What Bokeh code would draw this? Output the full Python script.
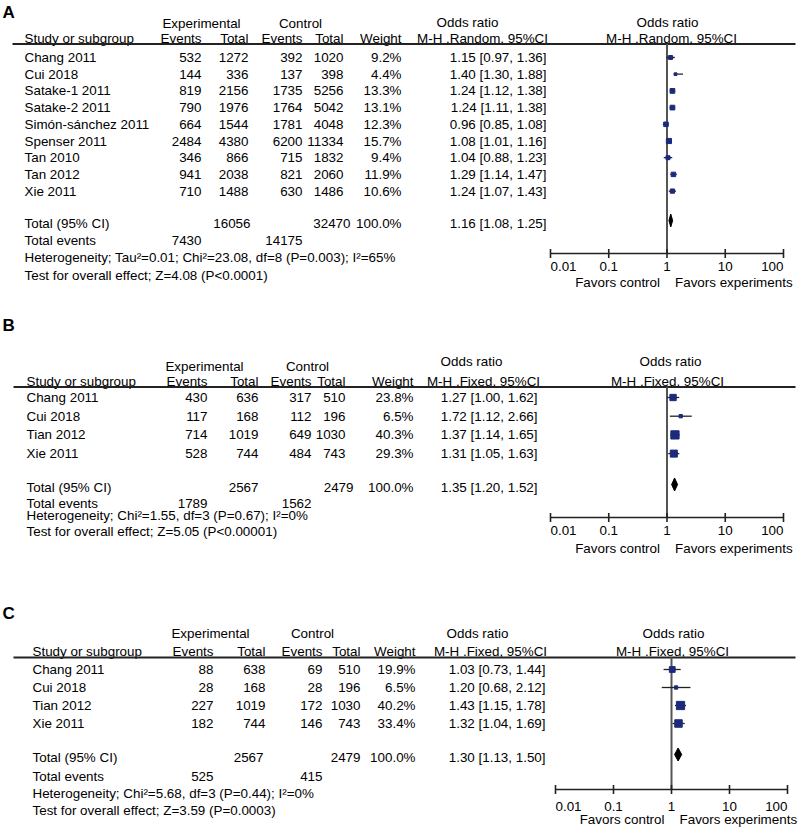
import math
from bokeh.plotting import figure
from bokeh.models import Range1d, LogScale
from bokeh.core.properties import value
from bokeh.embed import file_html
from bokeh.resources import INLINE

# ---------------- DATA ----------------
A_studies = ["Chang 2011", "Cui 2018", "Satake-1 2011", "Satake-2 2011", "Simón-sánchez 2011",
             "Spenser 2011", "Tan 2010", "Tan 2012", "Xie 2011"]
A_exp_events = [532, 144, 819, 790, 664, 2484, 346, 941, 710]
A_exp_total = [1272, 336, 2156, 1976, 1544, 4380, 866, 2038, 1488]
A_ctl_events = [392, 137, 1735, 1764, 1781, 6200, 715, 821, 630]
A_ctl_total = [1020, 398, 5256, 5042, 4048, 11334, 1832, 2060, 1486]
A_weight = [9.2, 4.4, 13.3, 13.1, 12.3, 15.7, 9.4, 11.9, 10.6]
A_or = [1.15, 1.40, 1.24, 1.24, 0.96, 1.08, 1.04, 1.29, 1.24]
A_lo = [0.97, 1.30, 1.12, 1.11, 0.85, 1.01, 0.88, 1.14, 1.07]
A_hi = [1.36, 1.88, 1.38, 1.38, 1.08, 1.16, 1.23, 1.47, 1.43]
A_total = {"exp_total": 16056, "ctl_total": 32470, "weight": 100.0, "or": 1.16, "lo": 1.08, "hi": 1.25,
           "exp_events": 7430, "ctl_events": 14175}
A_het = "Heterogeneity; Tau²=0.01; Chi²=23.08, df=8 (P=0.003); I²=65%"
A_test = "Test for overall effect; Z=4.08 (P<0.0001)"
A_method = "M-H .Random, 95%CI"

B_studies = ["Chang 2011", "Cui 2018", "Tian 2012", "Xie 2011"]
B_exp_events = [430, 117, 714, 528]
B_exp_total = [636, 168, 1019, 744]
B_ctl_events = [317, 112, 649, 484]
B_ctl_total = [510, 196, 1030, 743]
B_weight = [23.8, 6.5, 40.3, 29.3]
B_or = [1.27, 1.72, 1.37, 1.31]
B_lo = [1.00, 1.12, 1.14, 1.05]
B_hi = [1.62, 2.66, 1.65, 1.63]
B_total = {"exp_total": 2567, "ctl_total": 2479, "weight": 100.0, "or": 1.35, "lo": 1.20, "hi": 1.52,
           "exp_events": 1789, "ctl_events": 1562}
B_het = "Heterogeneity; Chi²=1.55, df=3 (P=0.67); I²=0%"
B_test = "Test for overall effect; Z=5.05 (P<0.00001)"
B_method = "M-H .Fixed, 95%CI"

C_studies = ["Chang 2011", "Cui 2018", "Tian 2012", "Xie 2011"]
C_exp_events = [88, 28, 227, 182]
C_exp_total = [638, 168, 1019, 744]
C_ctl_events = [69, 28, 172, 146]
C_ctl_total = [510, 196, 1030, 743]
C_weight = [19.9, 6.5, 40.2, 33.4]
C_or = [1.03, 1.20, 1.43, 1.32]
C_lo = [0.73, 0.68, 1.15, 1.04]
C_hi = [1.44, 2.12, 1.78, 1.69]
C_total = {"exp_total": 2567, "ctl_total": 2479, "weight": 100.0, "or": 1.30, "lo": 1.13, "hi": 1.50,
           "exp_events": 525, "ctl_events": 415}
C_het = "Heterogeneity; Chi²=5.68, df=3 (P=0.44); I²=0%"
C_test = "Test for overall effect; Z=3.59 (P=0.0003)"
C_method = "M-H .Fixed, 95%CI"

tick_values = [0.01, 0.1, 1, 10, 100]
tick_labels = ["0.01", "0.1", "1", "10", "100"]

# ---------------- LAYOUT ----------------
X0, X1, Y0, Y1 = 0, 799, 0, 828
W, H = X1 - X0, Y1 - Y0
LINE_END = 795

LAY = {
    "A": dict(letter_y=12, top_y=23, top_or_y=22, head_y=38, line_y=43.5, line_x0=12,
              row0=57, step=16.7, total_y=223, events_y=240, het_y=257, test_y=275,
              axis_y=253, tick_y=266, favors_y=282,
              x_study=24, x_ee=201, x_et=248, x_ce=302, x_ct=343, x_w=401, x_or=546,
              x_tet=250, x_tct=350, c_exp=201, c_ctl=300, c_or=467, c_mh=482, c_or2=667, c_mh2=671,
              x001=550, x100=783),
    "B": dict(letter_y=325, top_y=366, top_or_y=361, head_y=381, line_y=386.5, line_x0=13,
              row0=397, step=18.7, total_y=487, events_y=503, het_y=515, test_y=531,
              axis_y=517, tick_y=530, favors_y=548,
              x_study=26, x_ee=207, x_et=258, x_ce=311, x_ct=345, x_w=413, x_or=537,
              x_tet=258, x_tct=353, c_exp=204, c_ctl=307, c_or=471, c_mh=483, c_or2=670, c_mh2=667,
              x001=550, x100=783),
    "C": dict(letter_y=613, top_y=633, top_or_y=633, head_y=651, line_y=657, line_x0=13,
              row0=669, step=18, total_y=757, events_y=776, het_y=793, test_y=810,
              axis_y=789, tick_y=806, favors_y=819,
              x_study=32, x_ee=213, x_et=265, x_ce=322, x_ct=360, x_w=415, x_or=545,
              x_tet=263, x_tct=360, c_exp=210, c_ctl=312, c_or=477, c_mh=490, c_or2=673, c_mh2=672,
              x001=555, x100=787),
}


def log_range(x001, x100):
    dec = (x100 - x001) / 4.0
    return Range1d(10 ** (-2 + (X0 - x001) / dec), 10 ** (-2 + (X1 - x001) / dec))


p = figure(width=W, height=H, x_range=Range1d(X0, X1), y_range=Range1d(Y1, Y0),
           output_backend="svg", toolbar_location=None, min_border=0,
           x_axis_location=None, y_axis_location=None,
           extra_x_ranges={k: log_range(v["x001"], v["x100"]) for k, v in LAY.items()},
           extra_x_scales={k: LogScale() for k in LAY})
p.grid.visible = False
p.outline_line_color = None
p.background_fill_color = "white"
p.border_fill_color = "white"

FONT = value("Liberation Sans")
TXT = "#000000"
NAVY = "#1c2a7c"
FS = "13.4px"


def txt(x, y, t, align="left", size=FS, bold=False, rng="default", dx=0):
    p.text(x=x, y=y, text=t, text_align=align, text_baseline="middle", text_font=FONT,
           text_font_size=size, text_color=TXT, text_font_style="bold" if bold else "normal",
           x_range_name=rng, x_offset=dx)


def panel(key, studies, ee, et, ce, ct, wt, orv, lo, hi, tot, het, test, method):
    L = LAY[key]
    n = len(studies)
    ys = [L["row0"] + i * L["step"] for i in range(n)]

    txt([2], [L["letter_y"]], [key], size="17px", bold=True)
    # headers
    txt([L["c_exp"], L["c_ctl"]], [L["top_y"]] * 2, ["Experimental", "Control"], align="center")
    txt([L["c_or"], L["c_or2"]], [L["top_or_y"]] * 2, ["Odds ratio", "Odds ratio"], align="center")
    txt([L["x_study"]], [L["head_y"]], ["Study or subgroup"])
    txt([L["x_ee"], L["x_et"], L["x_ce"], L["x_ct"], L["x_w"]], [L["head_y"]] * 5,
        ["Events", "Total", "Events", "Total", "Weight"], align="right")
    txt([L["c_mh"], L["c_mh2"]], [L["head_y"]] * 2, [method, method], align="center")
    p.segment(x0=[L["line_x0"]], y0=[L["line_y"]], x1=[LINE_END], y1=[L["line_y"]],
              line_color="#222222", line_width=1.8)

    # study rows
    txt([L["x_study"]] * n, ys, studies)
    for col, vals in (("x_ee", ee), ("x_et", et), ("x_ce", ce), ("x_ct", ct)):
        txt([L[col]] * n, ys, [str(v) for v in vals], align="right")
    txt([L["x_w"]] * n, ys, [f"{w:.1f}%" for w in wt], align="right")
    txt([L["x_or"]] * n, ys, [f"{o:.2f} [{a:.2f}, {b:.2f}]" for o, a, b in zip(orv, lo, hi)], align="right")

    # totals
    txt([L["x_study"]], [L["total_y"]], ["Total (95% CI)"])
    txt([L["x_tet"], L["x_tct"], L["x_w"]], [L["total_y"]] * 3,
        [str(tot["exp_total"]), str(tot["ctl_total"]), f"{tot['weight']:.1f}%"], align="right")
    txt([L["x_or"]], [L["total_y"]], [f"{tot['or']:.2f} [{tot['lo']:.2f}, {tot['hi']:.2f}]"], align="right")
    txt([L["x_study"]], [L["events_y"]], ["Total events"])
    txt([L["x_ee"], L["x_ce"]], [L["events_y"]] * 2, [str(tot["exp_events"]), str(tot["ctl_events"])],
        align="right")
    txt([L["x_study"]], [L["het_y"]], [het])
    txt([L["x_study"]], [L["test_y"]], [test])

    # forest plot
    p.segment(x0=[1], y0=[L["line_y"]], x1=[1], y1=[L["axis_y"]], x_range_name=key,
              line_color="#555555", line_width=2)
    p.segment(x0=lo, y0=ys, x1=hi, y1=ys, x_range_name=key, line_color="#222222", line_width=1.3)
    p.scatter(x=orv, y=ys, marker="square", size=[1.3 * math.sqrt(w) for w in wt],
              x_range_name=key, fill_color=NAVY, line_color=NAVY)
    yt = L["total_y"] - 3
    p.patch(x=[tot["lo"], tot["or"], tot["hi"], tot["or"]], y=[yt, yt - 6.5, yt, yt + 6.5],
            x_range_name=key, fill_color="black", line_color="black")

    # axis
    ay = L["axis_y"]
    p.segment(x0=[tick_values[0]], y0=[ay], x1=[tick_values[-1]], y1=[ay], x_range_name=key,
              line_color="#222222", line_width=1.6)
    p.segment(x0=tick_values, y0=[ay - 4.5] * 5, x1=tick_values, y1=[ay + 4.5] * 5, x_range_name=key,
              line_color="#222222", line_width=1.6)
    txt([tick_values[0]], [L["tick_y"]], [tick_labels[0]], rng=key)
    txt(tick_values[1:-1], [L["tick_y"]] * 3, tick_labels[1:-1], align="center", rng=key)
    txt([tick_values[-1]], [L["tick_y"]], [tick_labels[-1]], align="right", rng=key)
    txt([1], [L["favors_y"]], ["Favors control"], align="right", rng=key, dx=-7)
    txt([1], [L["favors_y"]], ["Favors experiments"], align="left", rng=key, dx=8)


panel("A", A_studies, A_exp_events, A_exp_total, A_ctl_events, A_ctl_total, A_weight,
      A_or, A_lo, A_hi, A_total, A_het, A_test, A_method)
panel("B", B_studies, B_exp_events, B_exp_total, B_ctl_events, B_ctl_total, B_weight,
      B_or, B_lo, B_hi, B_total, B_het, B_test, B_method)
panel("C", C_studies, C_exp_events, C_exp_total, C_ctl_events, C_ctl_total, C_weight,
      C_or, C_lo, C_hi, C_total, C_het, C_test, C_method)

open("out.html", "w").write(file_html(p, INLINE))
